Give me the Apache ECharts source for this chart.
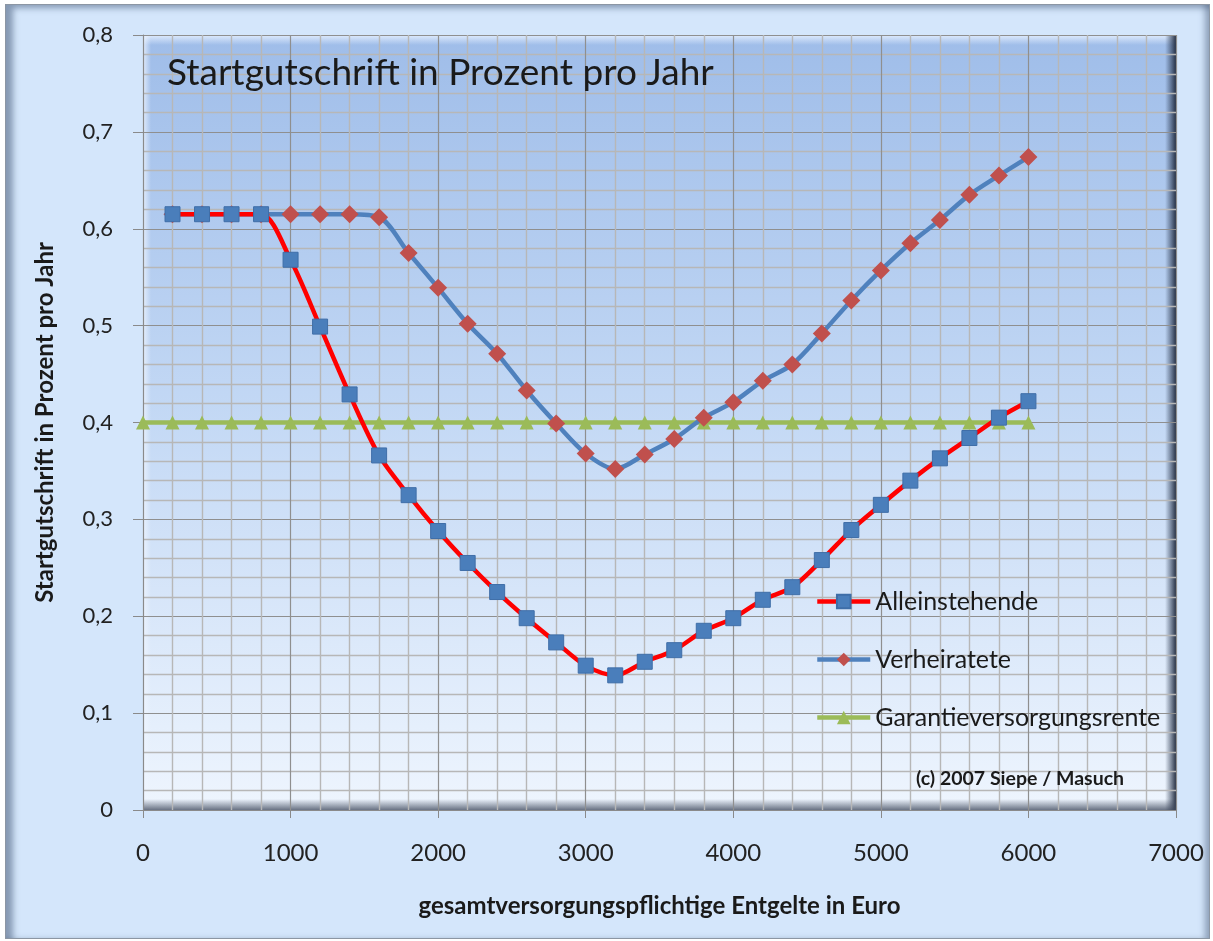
<!DOCTYPE html>
<html>
<head>
<meta charset="utf-8">
<script src="https://cdn.jsdelivr.net/npm/echarts@6/dist/echarts.min.js"></script>
<style>
  html, body { margin: 0; padding: 0; background: #ffffff; }
  #frame {
    position: absolute; left: 5px; top: 4px; width: 1203px; height: 933px;
    background: #d4e6fb; border: 1px solid #8c96a3;
    box-shadow: inset 12px 8px 6px -5px rgba(70,90,120,0.55), inset -9px -3px 6px -5px rgba(70,90,120,0.5);
  }
  #chart { position: absolute; left: 0; top: 0; width: 1213px; height: 941px; }
</style>
</head>
<body>
<div id="frame"></div>
<div id="chart"></div>
<script>
const incomes = [200, 400, 600, 800, 1000, 1200, 1400, 1600, 1800, 2000, 2200, 2400, 2600, 2800, 3000,
                 3200, 3400, 3600, 3800, 4000, 4200, 4400, 4600, 4800, 5000, 5200, 5400, 5600, 5800, 6000];
const alleinstehende = [0.615, 0.615, 0.615, 0.615, 0.568, 0.499, 0.429, 0.366, 0.325, 0.288, 0.255, 0.225, 0.198, 0.173, 0.149,
                        0.139, 0.153, 0.165, 0.185, 0.198, 0.217, 0.230, 0.258, 0.289, 0.315, 0.340, 0.363, 0.384, 0.405, 0.422];
const verheiratete = [0.615, 0.615, 0.615, 0.615, 0.615, 0.615, 0.615, 0.612, 0.575, 0.539, 0.502, 0.471, 0.433, 0.399, 0.368,
                      0.352, 0.367, 0.383, 0.405, 0.421, 0.443, 0.460, 0.492, 0.526, 0.557, 0.585, 0.609, 0.635, 0.655, 0.674];
const garantieIncomes = [0, 200, 400, 600, 800, 1000, 1200, 1400, 1600, 1800, 2000, 2200, 2400, 2600, 2800, 3000,
                         3200, 3400, 3600, 3800, 4000, 4200, 4400, 4600, 4800, 5000, 5200, 5400, 5600, 5800, 6000];
const garantie = [0.4, 0.4, 0.4, 0.4, 0.4, 0.4, 0.4, 0.4, 0.4, 0.4, 0.4, 0.4, 0.4, 0.4, 0.4, 0.4,
                  0.4, 0.4, 0.4, 0.4, 0.4, 0.4, 0.4, 0.4, 0.4, 0.4, 0.4, 0.4, 0.4, 0.4, 0.4];
const seriesNames = ['Alleinstehende', 'Verheiratete', 'Garantieversorgungsrente'];
const chartTitle = 'Startgutschrift in Prozent pro Jahr';
const xAxisTitle = 'gesamtversorgungspflichtige Entgelte in Euro';
const yAxisTitle = 'Startgutschrift in Prozent pro Jahr';
const copyright = '(c) 2007 Siepe / Masuch';

const pair = (xs, ys) => xs.map((x, i) => [x, ys[i]]);
const FONT = 'Lato, "Open Sans", sans-serif';

const G = { left: 143, top: 35, width: 1033, height: 775 };

const chart = echarts.init(document.getElementById('chart'), null, { renderer: 'canvas' });
chart.setOption({
  animation: false,
  backgroundColor: 'transparent',
  textStyle: { fontFamily: FONT },
  grid: { left: G.left, top: G.top, width: G.width, height: G.height, containLabel: false },
  graphic: [
    { type: 'rect', z: -20, shape: { x: G.left, y: G.top, width: G.width, height: G.height },
      style: { fill: new echarts.graphic.LinearGradient(0, 0, 0, 1, [
        { offset: 0, color: '#9fbde9' }, { offset: 0.5, color: '#c4d9f5' }, { offset: 1, color: '#eef5fe' }]) } },
    { type: 'rect', z: -15, shape: { x: G.left, y: G.top, width: G.width, height: 10 },
      style: { fill: new echarts.graphic.LinearGradient(0, 0, 0, 1, [
        { offset: 0, color: 'rgba(230,240,255,0.9)' }, { offset: 1, color: 'rgba(230,240,255,0)' }]) } },
    { type: 'rect', z: -15, shape: { x: G.left, y: G.top, width: 8, height: G.height },
      style: { fill: new echarts.graphic.LinearGradient(0, 0, 1, 0, [
        { offset: 0, color: 'rgba(240,246,255,0.8)' }, { offset: 1, color: 'rgba(240,246,255,0)' }]) } },
    { type: 'rect', z: -15, shape: { x: G.left + G.width - 11, y: G.top, width: 11, height: G.height },
      style: { fill: new echarts.graphic.LinearGradient(0, 0, 1, 0, [
        { offset: 0, color: 'rgba(40,55,80,0)' }, { offset: 1, color: 'rgba(30,40,60,0.95)' }]) } },
    { type: 'rect', z: -14, shape: { x: G.left, y: G.top + G.height - 11, width: G.width, height: 11 },
      style: { fill: new echarts.graphic.LinearGradient(0, 0, 0, 1, [
        { offset: 0, color: 'rgba(60,70,90,0)' }, { offset: 1, color: 'rgba(60,70,90,0.75)' }]) } },
    { type: 'text', z: 10, left: 167, top: 55,
      style: { text: chartTitle, font: '37px ' + FONT, fill: '#1a1a1a' } },
    { type: 'text', z: 10, left: 916, top: 769,
      style: { text: copyright, font: 'bold 19.5px ' + FONT, fill: '#1a1a1a' } }
  ],
  legend: {
    orient: 'vertical', left: 810, top: 584, itemWidth: 53, itemHeight: 17, itemGap: 33,
    lineStyle: { width: 4.5 },
    textStyle: { fontSize: 25, color: '#1a1a1a', fontFamily: FONT, lineHeight: 25 },
    data: seriesNames
  },
  xAxis: {
    type: 'value', min: 0, max: 7000, interval: 1000,
    name: xAxisTitle, nameLocation: 'middle', nameGap: 84,
    nameTextStyle: { fontSize: 24, fontWeight: 'bold', color: '#1a1a1a', fontFamily: FONT },
    axisLine: { show: true, lineStyle: { color: '#8a8a8a', width: 1 } },
    axisTick: { show: true, length: 8, lineStyle: { color: '#8a8a8a' } },
    axisLabel: { margin: 31, fontSize: 24, color: '#222', fontFamily: FONT, formatter: v => String(v) },
    splitLine: { show: true, lineStyle: { color: '#8f8f8f', width: 1.2 } },
    minorTick: { show: false, splitNumber: 5 },
    minorSplitLine: { show: true, lineStyle: { color: '#b7b7b7', width: 1.4 } }
  },
  yAxis: {
    type: 'value', min: 0, max: 0.8, interval: 0.1,
    name: yAxisTitle, nameLocation: 'middle', nameGap: 86, nameRotate: 90,
    nameTextStyle: { fontSize: 24, fontWeight: 'bold', color: '#1a1a1a', fontFamily: FONT },
    axisLine: { show: true, lineStyle: { color: '#8a8a8a', width: 1 } },
    axisTick: { show: true, length: 10, lineStyle: { color: '#8a8a8a' } },
    axisLabel: { margin: 30, fontSize: 22, color: '#222', fontFamily: FONT,
      formatter: v => String(Math.round(v * 10) / 10).replace('.', ',') },
    splitLine: { show: true, lineStyle: { color: '#8f8f8f', width: 1.2 } },
    minorTick: { show: false, splitNumber: 5 },
    minorSplitLine: { show: true, lineStyle: { color: '#b7b7b7', width: 1.4 } }
  },
  series: [
    {
      name: seriesNames[2], type: 'line', data: pair(garantieIncomes, garantie), z: 3,
      symbol: 'triangle', symbolSize: 14,
      lineStyle: { color: '#9bbb59', width: 4.5 },
      itemStyle: { color: '#9bbb59' }
    },
    {
      name: seriesNames[1], type: 'line', data: pair(incomes, verheiratete), z: 4, smooth: 0.3,
      symbol: 'diamond', symbolSize: 18,
      lineStyle: { color: '#4f81bd', width: 4.5 },
      itemStyle: { color: '#c0504d', borderWidth: 0 }
    },
    {
      name: seriesNames[0], type: 'line', data: pair(incomes, alleinstehende), z: 5, smooth: 0.3,
      symbol: 'rect', symbolSize: 15,
      lineStyle: { color: '#ff0000', width: 4.5 },
      itemStyle: { color: '#4a7ebb', borderColor: '#3f6ea8', borderWidth: 1 }
    }
  ]
});
</script>
</body>
</html>
